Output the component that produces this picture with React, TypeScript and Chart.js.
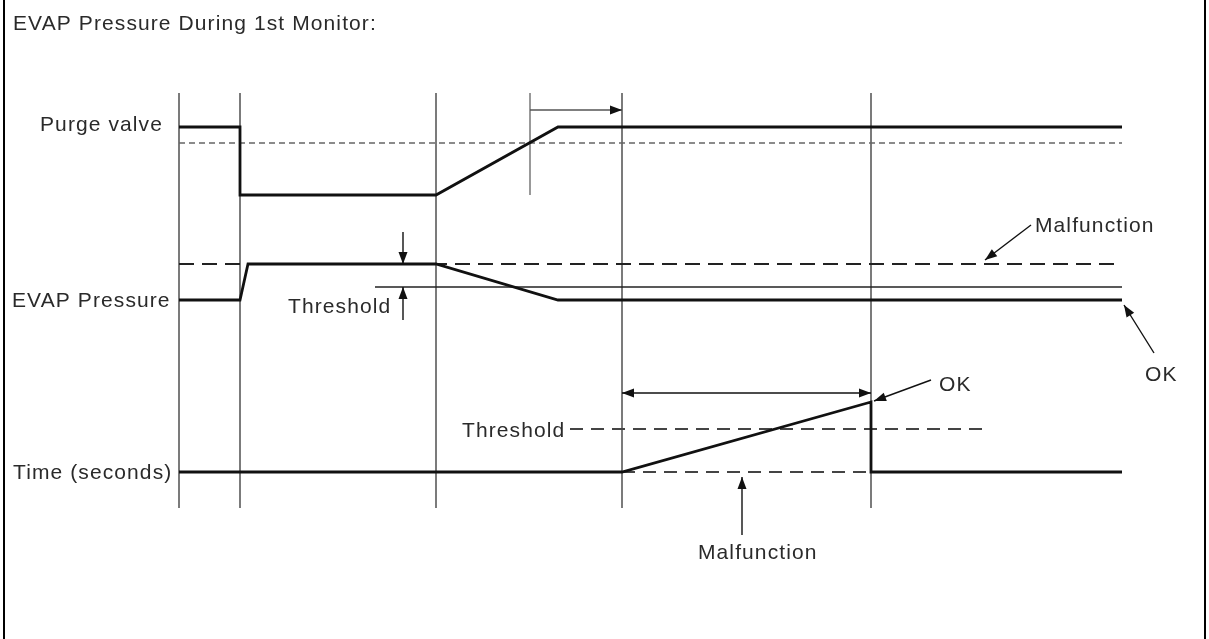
import React, { useEffect, useRef } from "react";
import { Chart, registerables } from "chart.js";

Chart.register(...registerables);

// ---- Diagram values (diagram coordinate units) ----
const EVENT_X = [179, 240, 436, 622, 871];
const EVENT_Y_SPAN = [93, 508];

const PURGE_X = [179, 240, 240, 436, 558, 1122];
const PURGE_Y = [127, 127, 195, 195, 127, 127];
const PURGE_REF_Y = 143;
const PURGE_REF_X = [179, 1122];
const PURGE_MARK_X = 530;
const PURGE_MARK_Y = [93, 195];

const EVAP_X = [179, 240, 248, 436, 558, 1122];
const EVAP_Y = [300, 300, 264, 264, 300, 300];
const EVAP_MALF_Y = 264;
const EVAP_MALF_X = [179, 1122];
const EVAP_THRESH_Y = 287;
const EVAP_THRESH_X = [375, 1122];

const TIME_X = [179, 622, 871, 871, 1122];
const TIME_Y = [472, 472, 402, 472, 472];
const TIME_THRESH_Y = 429;
const TIME_THRESH_X = [570, 985];
const TIME_MALF_Y = 472;
const TIME_MALF_X = [622, 871];

// arrows: [x1, y1, x2, y2, heads, colour]
const ARROWS: [number, number, number, number, string, string][] = [
  [530, 110, 622, 110, "end", "#555"],
  [403, 232, 403, 264, "end", "#111"],
  [403, 320, 403, 287, "end", "#111"],
  [622, 393, 871, 393, "both", "#111"],
  [931, 380, 874, 401, "end", "#111"],
  [742, 535, 742, 477, "end", "#111"],
  [1031, 225, 985, 260, "end", "#111"],
  [1154, 353, 1124, 305, "end", "#111"],
];

const LABEL_TEXT = [
  "EVAP Pressure During 1st Monitor:",
  "Purge valve",
  "EVAP Pressure",
  "Threshold",
  "Time (seconds)",
  "Threshold",
  "OK",
  "Malfunction",
  "Malfunction",
  "OK",
];
const LABEL_X = [13, 40, 12, 288, 13, 462, 939, 698, 1035, 1145];
const LABEL_Y = [30, 131, 307, 313, 479, 437, 391, 559, 232, 381];

const FRAME_X = [4, 1205];

const W = 1209;
const H = 639;

function seg(xs: number[], ys: number[]) {
  return xs.map((x, i) => ({ x, y: ys[i] }));
}

export default function App() {
  const ref = useRef<HTMLCanvasElement | null>(null);

  useEffect(() => {
    if (!ref.current) return;

    const eventPts: any[] = [];
    EVENT_X.forEach((x) => {
      eventPts.push({ x, y: EVENT_Y_SPAN[0] }, { x, y: EVENT_Y_SPAN[1] }, { x, y: null });
    });

    const base = {
      showLine: true,
      pointRadius: 0,
      pointHoverRadius: 0,
      fill: false,
      tension: 0,
      spanGaps: false,
    };

    const decor = {
      id: "decor",
      afterDatasetsDraw(chart: any) {
        const { ctx } = chart;
        const xs = chart.scales.x;
        const ys = chart.scales.y;
        const px = (v: number) => xs.getPixelForValue(v);
        const py = (v: number) => ys.getPixelForValue(v);
        ctx.save();
        // frame
        ctx.strokeStyle = "#000";
        ctx.lineWidth = 2;
        FRAME_X.forEach((fx) => {
          ctx.beginPath();
          ctx.moveTo(px(fx), py(0));
          ctx.lineTo(px(fx), py(H));
          ctx.stroke();
        });
        // arrows
        ARROWS.forEach(([x1, y1, x2, y2, heads, color]) => {
          const a = { x: px(x1), y: py(y1) };
          const b = { x: px(x2), y: py(y2) };
          ctx.strokeStyle = color;
          ctx.fillStyle = "#111";
          ctx.lineWidth = 1.4;
          ctx.beginPath();
          ctx.moveTo(a.x, a.y);
          ctx.lineTo(b.x, b.y);
          ctx.stroke();
          const head = (tip: any, from: any) => {
            const ang = Math.atan2(tip.y - from.y, tip.x - from.x);
            const L = 12;
            const Wd = 4.5;
            ctx.beginPath();
            ctx.moveTo(tip.x, tip.y);
            ctx.lineTo(
              tip.x - L * Math.cos(ang) + Wd * Math.sin(ang),
              tip.y - L * Math.sin(ang) - Wd * Math.cos(ang)
            );
            ctx.lineTo(
              tip.x - L * Math.cos(ang) - Wd * Math.sin(ang),
              tip.y - L * Math.sin(ang) + Wd * Math.cos(ang)
            );
            ctx.closePath();
            ctx.fill();
          };
          head(b, a);
          if (heads === "both") head(a, b);
        });
        // labels
        ctx.fillStyle = "#2a2a2a";
        ctx.font = '21px "Liberation Sans", Arial, sans-serif';
        try {
          (ctx as any).letterSpacing = "1.1px";
        } catch (e) {}
        ctx.textAlign = "left";
        ctx.textBaseline = "alphabetic";
        LABEL_TEXT.forEach((t, i) => {
          ctx.fillText(t, px(LABEL_X[i]), py(LABEL_Y[i]));
        });
        ctx.restore();
      },
    };

    const chart = new Chart(ref.current, {
      type: "scatter",
      data: {
        datasets: [
          { ...base, label: "Purge valve", data: seg(PURGE_X, PURGE_Y), borderColor: "#111", borderWidth: 2.8 },
          { ...base, label: "EVAP Pressure", data: seg(EVAP_X, EVAP_Y), borderColor: "#111", borderWidth: 2.8 },
          { ...base, label: "Time", data: seg(TIME_X, TIME_Y), borderColor: "#111", borderWidth: 2.8 },
          {
            ...base,
            label: "Purge ref",
            data: PURGE_REF_X.map((x) => ({ x, y: PURGE_REF_Y })),
            borderColor: "#666",
            borderWidth: 1.5,
            borderDash: [6, 4],
          },
          {
            ...base,
            label: "Purge mark",
            data: PURGE_MARK_Y.map((y) => ({ x: PURGE_MARK_X, y })),
            borderColor: "#999",
            borderWidth: 2,
          },
          {
            ...base,
            label: "EVAP malfunction",
            data: EVAP_MALF_X.map((x) => ({ x, y: EVAP_MALF_Y })),
            borderColor: "#222",
            borderWidth: 2.2,
            borderDash: [15, 8],
          },
          {
            ...base,
            label: "EVAP threshold",
            data: EVAP_THRESH_X.map((x) => ({ x, y: EVAP_THRESH_Y })),
            borderColor: "#222",
            borderWidth: 1.6,
          },
          {
            ...base,
            label: "Time threshold",
            data: TIME_THRESH_X.map((x) => ({ x, y: TIME_THRESH_Y })),
            borderColor: "#444",
            borderWidth: 2.2,
            borderDash: [13, 8],
          },
          {
            ...base,
            label: "Time malfunction",
            data: TIME_MALF_X.map((x) => ({ x, y: TIME_MALF_Y })),
            borderColor: "#444",
            borderWidth: 2.2,
            borderDash: [13, 8],
          },
          { ...base, label: "Events", data: eventPts, borderColor: "#444", borderWidth: 1.4 },
        ],
      },
      options: {
        responsive: false,
        animation: false,
        devicePixelRatio: 1,
        layout: { padding: 0 },
        plugins: {
          legend: { display: false },
          tooltip: { enabled: false },
          title: { display: false },
        },
        events: [],
        scales: {
          x: { type: "linear", min: 0, max: W, display: false },
          y: { type: "linear", min: 0, max: H, reverse: true, display: false },
        },
      },
      plugins: [decor],
    });

    return () => chart.destroy();
  }, []);

  return (
    <div style={{ position: "fixed", left: 0, top: 0, width: W, height: H, background: "#fff" }}>
      <canvas ref={ref} width={W} height={H} style={{ width: W, height: H, display: "block" }} />
    </div>
  );
}
